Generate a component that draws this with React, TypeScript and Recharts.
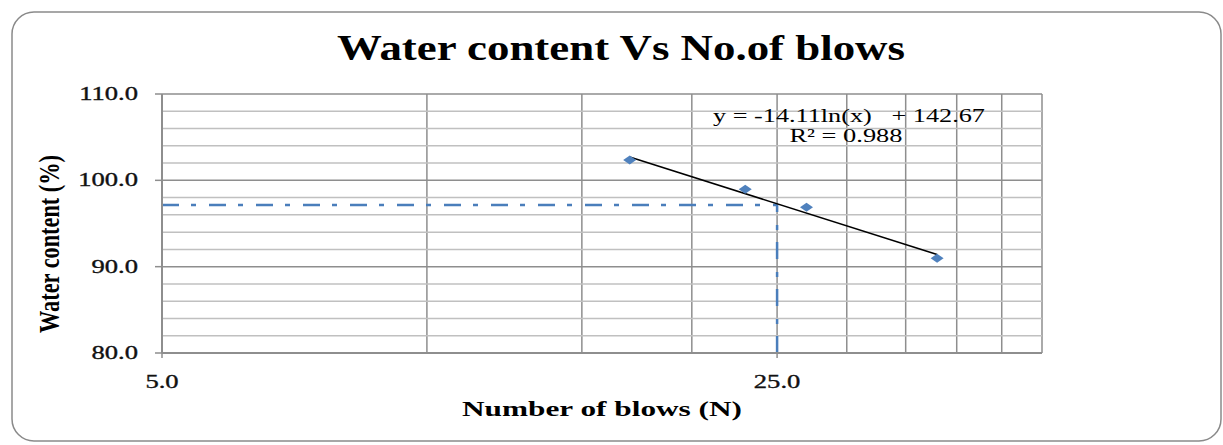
import React from "react"
import { ComposedChart, Scatter, XAxis, YAxis, CartesianGrid, ReferenceLine } from "recharts"

// blows vs water content
const blows = [17, 23, 27, 38]
const waterContent = [102.35, 98.96, 96.88, 90.97]

// log trendline end points (y = -14.11 ln(x) + 142.67)
const trendX = [17, 38]
const trendY = [102.7, 91.4]

// liquid limit read at 25 blows
const llBlows = 25
const llWater = 97.14

const xGrid = [5, 10, 15, 20, 25, 30, 35, 40, 45, 50]
const xLabels = [5, 25]
const yMajor = [80, 90, 100, 110]
const yMinor = [82, 84, 86, 88, 92, 94, 96, 98, 102, 104, 106, 108]

const points = blows.map((b, i) => ({ x: b, y: waterContent[i] }))
const trend = trendX.map((x, i) => ({ x, y: trendY[i] }))

const SERIF = "'Liberation Serif', 'Times New Roman', serif"
const GRID = "#8e8e8e"
const BLUE = "#4a7ebb"

const Diamond = (p: any) => {
  const { cx, cy } = p
  return <polygon points={`${cx - 6.5},${cy} ${cx},${cy - 4.5} ${cx + 6.5},${cy} ${cx},${cy + 4.5}`} fill="#4f81bd" />
}

const NoDot = () => <g />

const XTick = (p: any) => {
  const { x, y, payload } = p
  if (!xLabels.includes(payload.value)) return <g />
  return (
    <g>
      <line x1={x} x2={x} y1={y - 7} y2={y - 2} stroke={GRID} strokeWidth={1.5} />
      <text
        transform={`translate(${x},${y + 28}) scale(1.4,1)`}
        textAnchor="middle"
        fontFamily={SERIF}
        fontSize={19}
        fill="#111"
        stroke="#111"
        strokeWidth={0.35}
      >
        {payload.value.toFixed(1)}
      </text>
    </g>
  )
}

const YTick = (p: any) => {
  const { x, y, payload } = p
  return (
    <text
      transform={`translate(${x},${y + 6}) scale(1.4,1)`}
      textAnchor="end"
      fontFamily={SERIF}
      fontSize={19}
      fill="#111"
      stroke="#111"
      strokeWidth={0.35}
    >
      {payload.value.toFixed(1)}
    </text>
  )
}

export default function App() {
  return (
    <div style={{ position: "absolute", left: 0, top: 0, width: 1223, height: 445, background: "#fff" }}>
      <ComposedChart width={1223} height={445} margin={{ top: 94, right: 181, bottom: 62, left: 102 }}>
        <CartesianGrid stroke={GRID} strokeWidth={1.5} />
        {yMinor.map(v => (
          <ReferenceLine key={v} y={v} stroke="#c0c0c0" strokeWidth={1.5} />
        ))}
        <XAxis
          dataKey="x"
          type="number"
          scale="log"
          domain={[5, 50]}
          ticks={xGrid}
          allowDataOverflow
          height={30}
          tickSize={5}
          tickMargin={2}
          tickLine={false}
          axisLine={{ stroke: GRID, strokeWidth: 2 }}
          tick={<XTick />}
          interval={0}
        />
        <YAxis
          dataKey="y"
          type="number"
          domain={[80, 110]}
          ticks={yMajor}
          width={60}
          tickSize={7}
          tickMargin={17}
          tickLine={{ stroke: GRID, strokeWidth: 1.5 }}
          axisLine={{ stroke: GRID, strokeWidth: 2 }}
          tick={<YTick />}
          interval={0}
        />
        <ReferenceLine
          segment={[{ x: 5, y: llWater }, { x: llBlows, y: llWater }]}
          stroke={BLUE}
          strokeWidth={2.5}
          strokeDasharray="17 12 5 13"
        />
        <ReferenceLine
          segment={[{ x: llBlows, y: 80 }, { x: llBlows, y: llWater }]}
          stroke={BLUE}
          strokeWidth={2.5}
          strokeDasharray="17 12 5 13"
        />
        <Scatter data={trend} line={{ stroke: "#000", strokeWidth: 1.5 }} shape={<NoDot />} isAnimationActive={false} />
        <Scatter data={points} shape={<Diamond />} isAnimationActive={false} />
      </ComposedChart>

      <svg width={1223} height={445} style={{ position: "absolute", left: 0, top: 0, pointerEvents: "none" }}>
        <rect x={12} y={12} width={1209} height={429} rx={22} fill="none" stroke="#8a8a8a" strokeWidth={1.5} />
        <text x={621} y={60} textAnchor="middle" fontFamily={SERIF} fontWeight="bold" fontSize={35} textLength={568} lengthAdjust="spacingAndGlyphs" fill="#000">
          Water content Vs No.of blows
        </text>
        <text x={602} y={416} textAnchor="middle" fontFamily={SERIF} fontWeight="bold" fontSize={22} textLength={280} lengthAdjust="spacingAndGlyphs" fill="#000">
          Number of blows (N)
        </text>
        <text
          transform="translate(59,244) scale(1.3,1) rotate(-90)"
          textAnchor="middle"
          fontFamily={SERIF}
          fontWeight="bold"
          fontSize={22}
          textLength={178}
          lengthAdjust="spacingAndGlyphs"
          fill="#000"
        >
          Water content (%)
        </text>
        <text x={849} y={122} textAnchor="middle" fontFamily={SERIF} fontSize={19} textLength={272} lengthAdjust="spacingAndGlyphs" fill="#000" style={{ whiteSpace: "pre" }}>
          {"y = -14.11ln(x)   + 142.67"}
        </text>
        <text x={846} y={142} textAnchor="middle" fontFamily={SERIF} fontSize={19} textLength={113} lengthAdjust="spacingAndGlyphs" fill="#000">
          R² = 0.988
        </text>
      </svg>
    </div>
  )
}
